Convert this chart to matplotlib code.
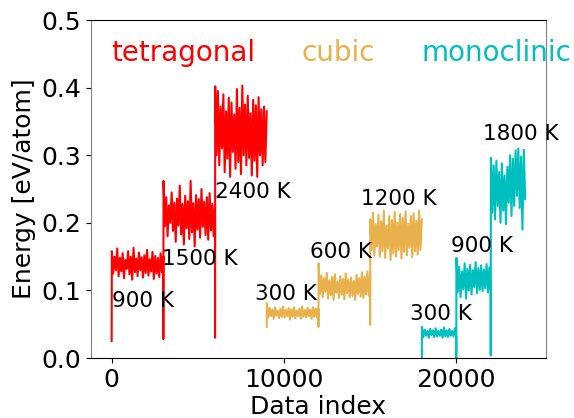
import numpy as np
import matplotlib
matplotlib.use("Agg")
import matplotlib.pyplot as plt

# energy traces (coarse samples: first frame, then band highs/lows)
tet_900 = [0.025, 0.158, 0.125, 0.150, 0.130, 0.162, 0.121, 0.148, 0.128, 0.155, 0.118, 0.145, 0.132, 0.158,
           0.124, 0.150, 0.116, 0.163, 0.127, 0.147, 0.121, 0.156, 0.130, 0.149, 0.119, 0.152, 0.126, 0.160,
           0.122, 0.146, 0.128, 0.157, 0.117, 0.151, 0.125, 0.148, 0.120, 0.155, 0.127, 0.150]
tet_1500 = [0.028, 0.262, 0.195, 0.238, 0.180, 0.226, 0.200, 0.245, 0.188, 0.230, 0.172, 0.236, 0.196, 0.255,
            0.183, 0.228, 0.168, 0.240, 0.192, 0.232, 0.176, 0.262, 0.186, 0.229, 0.165, 0.241, 0.190, 0.235,
            0.178, 0.250, 0.194, 0.231, 0.182, 0.238, 0.175, 0.244, 0.189, 0.228, 0.180, 0.225]
tet_2400 = [0.030, 0.402, 0.300, 0.395, 0.285, 0.372, 0.310, 0.390, 0.275, 0.365, 0.295, 0.385, 0.268, 0.378,
            0.305, 0.360, 0.280, 0.398, 0.290, 0.370, 0.272, 0.403, 0.300, 0.375, 0.285, 0.388, 0.296, 0.362,
            0.270, 0.382, 0.292, 0.374, 0.268, 0.386, 0.300, 0.368, 0.285, 0.372, 0.290, 0.365]
cub_300 = [0.046, 0.081, 0.060, 0.074, 0.062, 0.072, 0.058, 0.075, 0.063, 0.070, 0.059, 0.073, 0.061, 0.076,
           0.060, 0.071, 0.062, 0.074, 0.057, 0.072, 0.061, 0.075, 0.059, 0.070, 0.062, 0.073, 0.058, 0.076,
           0.061, 0.071, 0.060, 0.074, 0.062, 0.072, 0.058, 0.075, 0.061, 0.073, 0.060, 0.072]
cub_600 = [0.046, 0.140, 0.095, 0.122, 0.090, 0.118, 0.098, 0.126, 0.088, 0.115, 0.093, 0.120, 0.086, 0.124,
           0.097, 0.113, 0.089, 0.121, 0.094, 0.117, 0.087, 0.125, 0.096, 0.116, 0.090, 0.119, 0.092, 0.114,
           0.086, 0.123, 0.095, 0.118, 0.091, 0.127, 0.089, 0.120, 0.094, 0.128, 0.092, 0.124]
cub_1200 = [0.049, 0.205, 0.160, 0.215, 0.152, 0.198, 0.165, 0.212, 0.150, 0.202, 0.158, 0.218, 0.148, 0.196,
            0.162, 0.210, 0.145, 0.204, 0.155, 0.216, 0.150, 0.200, 0.160, 0.213, 0.147, 0.207, 0.157, 0.217,
            0.152, 0.199, 0.163, 0.210, 0.149, 0.214, 0.158, 0.203, 0.153, 0.218, 0.160, 0.205]
mono_300 = [0.000, 0.046, 0.031, 0.042, 0.033, 0.040, 0.030, 0.043, 0.034, 0.041, 0.031, 0.044, 0.032, 0.040,
            0.033, 0.042, 0.030, 0.045, 0.032, 0.041, 0.031, 0.043, 0.033, 0.040, 0.032, 0.044, 0.031]
mono_900 = [0.000, 0.148, 0.098, 0.135, 0.090, 0.128, 0.102, 0.140, 0.088, 0.132, 0.100, 0.138, 0.094, 0.130,
            0.105, 0.142, 0.096, 0.133, 0.101, 0.137, 0.099, 0.131, 0.103, 0.139, 0.097, 0.134, 0.100]
mono_1800 = [0.004, 0.296, 0.215, 0.285, 0.205, 0.292, 0.225, 0.275, 0.200, 0.288, 0.218, 0.270, 0.198, 0.283,
             0.230, 0.300, 0.210, 0.295, 0.225, 0.307, 0.240, 0.310, 0.222, 0.298, 0.190, 0.308, 0.235]

phases = ['tetragonal', 'cubic', 'monoclinic']
colors = ['#ff0000', '#e8b14b', '#00bfbf']
segments = [[tet_900, tet_1500, tet_2400], [cub_300, cub_600, cub_1200], [mono_300, mono_900, mono_1800]]
seg_starts = [[0, 3000, 6000], [9000, 12000, 15000], [18000, 20000, 22000]]
seg_len = [3000, 3000, 2000]

temp_labels = [['900 K', '1500 K', '2400 K'], ['300 K', '600 K', '1200 K'], ['300 K', '900 K', '1800 K']]
temp_pos = [[(0, 0.075), (2950, 0.138), (5980, 0.237)],
            [(8300, 0.086), (11500, 0.148), (14480, 0.226)],
            [(17300, 0.056), (19700, 0.157), (21560, 0.322)]]
phase_x = [0, 11000, 18000]

fig, ax = plt.subplots(figsize=(5.74, 4.18), dpi=100)
fig.subplots_adjust(left=0.1585, right=0.951, top=0.952, bottom=0.1435)

for p in range(3):
    xs, ys = [], []
    for s, start in zip(segments[p], seg_starts[p]):
        # first frame sits right at the segment start, the rest fill the segment
        xs.append(start)
        xs.extend(np.linspace(start + 10, start + seg_len[p] - 1, len(s) - 1))
        ys.extend(s)
    ax.plot(xs, ys, color=colors[p], lw=1.5)
    ax.text(phase_x[p], 0.44, phases[p], color=colors[p], fontsize=20, zorder=1)
    for lab, (tx, ty) in zip(temp_labels[p], temp_pos[p]):
        ax.text(tx, ty, lab, fontsize=15.5, color='black')

ax.set_ylim(0, 0.5)
ax.set_xlim(-1200, 25200)
ax.set_xticks([0, 10000, 20000])
ax.set_yticks([0, 0.1, 0.2, 0.3, 0.4, 0.5])
ax.set_xlabel('Data index', fontsize=18, labelpad=2)
ax.set_ylabel('Energy [eV/atom]', fontsize=18)
ax.tick_params(labelsize=18)
ax.spines['left'].set_color('gray')
ax.spines['right'].set_color('gray')

fig.savefig('out.png', dpi=100)
